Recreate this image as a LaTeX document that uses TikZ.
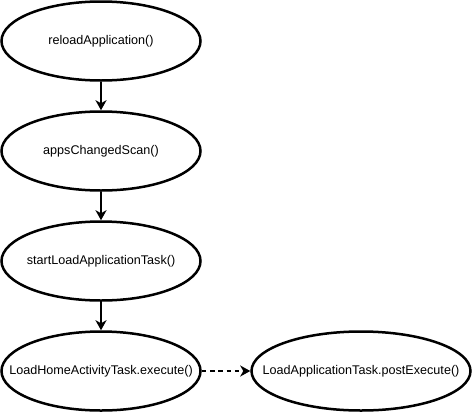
\documentclass[tikz,border=0pt]{standalone}
\usepackage{fontspec}
\setmainfont{Liberation Sans}
\usetikzlibrary{arrows.meta,shapes.geometric}
\begin{document}
\begin{tikzpicture}[x=1pt,y=-1pt,
  oval/.style={draw=black,line width=2.5pt,fill=white,ellipse,inner sep=0pt,
    minimum width=199pt,minimum height=79pt},
  lbl/.style={inner sep=0pt,font=\fontsize{12.6}{14}\selectfont},
  flow/.style={line width=1.8pt,-{Stealth[length=10pt,width=11pt,inset=3pt]}}]
\useasboundingbox (0,0) rectangle (473,413);
\node[oval] (a) at (101,41) {};
\node[oval] (b) at (101,151) {};
\node[oval] (c) at (101,261) {};
\node[oval] (d) at (101,371) {};
\node[oval,minimum width=219pt] (e) at (361,371) {};
\node[lbl] (at) at (a) {reloadApplication()};
\node[lbl] (bt) at (b) {appsChangedScan()};
\node[lbl] (ct) at (c) {startLoadApplicationTask()};
\node[lbl] (dt) at (d) {LoadHomeActivityTask.execute()};
\node[lbl] (et) at (e) {LoadApplicationTask.postExecute()};
\draw[flow] (a) -- (b);
\draw[flow] (b) -- (c);
\draw[flow] (c) -- (d);
\draw[flow,dash pattern=on 4.5pt off 3.8pt] (d) -- (e);
\end{tikzpicture}
\end{document}
